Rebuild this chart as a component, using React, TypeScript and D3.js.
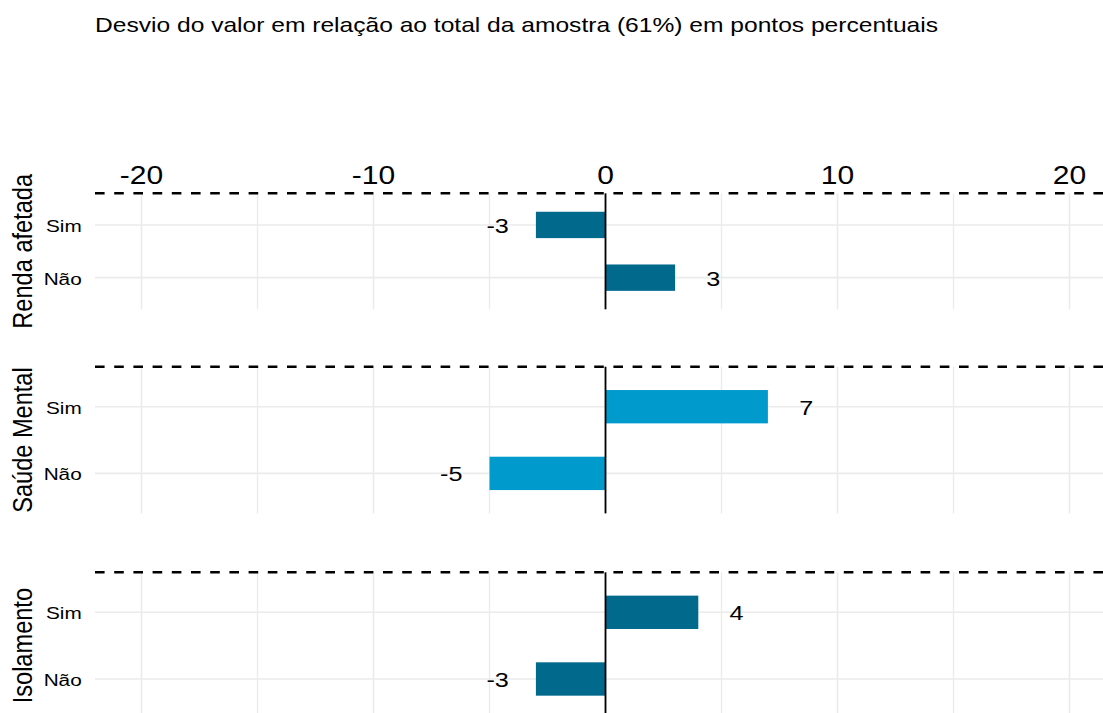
import React from "react";
import * as d3 from "d3";

const groups = ["Renda afetada", "Saúde Mental", "Isolamento"];
const categories = ["Sim", "Não"];
const rendaValues = [-3, 3];
const saudeValues = [7, -5];
const isolValues = [4, -3];
const groupValues = [rendaValues, saudeValues, isolValues];
const groupColors = ["#00698c", "#009bcd", "#00698c"];
const majorTicks = [-20, -10, 0, 10, 20];
const minorTicks = [-15, -5, 5, 15];
const title = "Desvio do valor em relação ao total da amostra (61%) em pontos percentuais";

const W = 1103;
const H = 713;
const SX = 1.2;
const FONT = "Liberation Sans, Arial, sans-serif";
const panelLeft = 95;
const panels = [
  { top: 193.3, height: 116 },
  { top: 366.7, height: 146.7 },
  { top: 572.3, height: 146.7 },
];

const x = d3.scaleLinear().domain([-22, 22]).range([95.1, 95.1 + 44 * 23.2]);

function HText({ x, y, size, anchor = "start", children }: any) {
  return (
    <text
      transform={`translate(${x},${y}) scale(${SX},1)`}
      fontSize={size}
      textAnchor={anchor}
      fontFamily={FONT}
      fill="#000"
    >
      {children}
    </text>
  );
}

export default function App() {
  return (
    <svg
      width={W}
      height={H}
      style={{ position: "absolute", left: 0, top: 0, background: "#fff" }}
    >
      <rect width={W} height={H} fill="#fff" />
      <HText x={95} y={31.5} size={20.5}>
        {title}
      </HText>
      {majorTicks.map((t) => (
        <HText key={t} x={x(t)} y={184.3} size={25} anchor="middle">
          {String(t)}
        </HText>
      ))}
      {panels.map((p, gi) => {
        const y = d3
          .scalePoint<string>()
          .domain(categories)
          .range([p.top, p.top + p.height])
          .padding(0.6);
        const bw = y.step() * 0.5;
        const vals = groupValues[gi];
        const bottom = p.top + p.height;
        return (
          <g key={gi}>
            {minorTicks.map((t) => (
              <line key={"m" + t} x1={x(t)} x2={x(t)} y1={p.top} y2={bottom} stroke="#ebebeb" strokeWidth={1.3} />
            ))}
            {majorTicks.map((t) => (
              <line key={"M" + t} x1={x(t)} x2={x(t)} y1={p.top} y2={bottom} stroke="#ebebeb" strokeWidth={1.6} />
            ))}
            {categories.map((c) => (
              <line key={"h" + c} x1={panelLeft} x2={W} y1={y(c)!} y2={y(c)!} stroke="#ebebeb" strokeWidth={1.6} />
            ))}
            {categories.map((c, i) => {
              const v = vals[i];
              return (
                <rect
                  key={"b" + c}
                  x={Math.min(x(v), x(0))}
                  y={y(c)! - bw / 2}
                  width={Math.abs(x(v) - x(0))}
                  height={bw}
                  fill={groupColors[gi]}
                />
              );
            })}
            {categories.map((c, i) => {
              const v = vals[i];
              const lx = x(v + (v >= 0 ? 1.65 : -1.65));
              return (
                <HText key={"l" + c} x={lx} y={y(c)! + 8} size={21} anchor="middle">
                  {String(v)}
                </HText>
              );
            })}
            {categories.map((c) => (
              <HText key={"t" + c} x={81.7} y={y(c)! + 7} size={17.3} anchor="end">
                {c}
              </HText>
            ))}
            <line x1={x(0)} x2={x(0)} y1={p.top} y2={bottom} stroke="#000" strokeWidth={1.8} />
            <line
              x1={panelLeft}
              x2={W}
              y1={p.top}
              y2={p.top}
              stroke="#000"
              strokeWidth={2.4}
              strokeDasharray="9.6 9.6"
            />
            <text
              transform={`translate(32,${p.top + p.height / 2}) scale(${SX},1) rotate(-90)`}
              fontSize={23.6}
              textAnchor="middle"
              fontFamily={FONT}
              fill="#000"
            >
              {groups[gi]}
            </text>
          </g>
        );
      })}
    </svg>
  );
}
